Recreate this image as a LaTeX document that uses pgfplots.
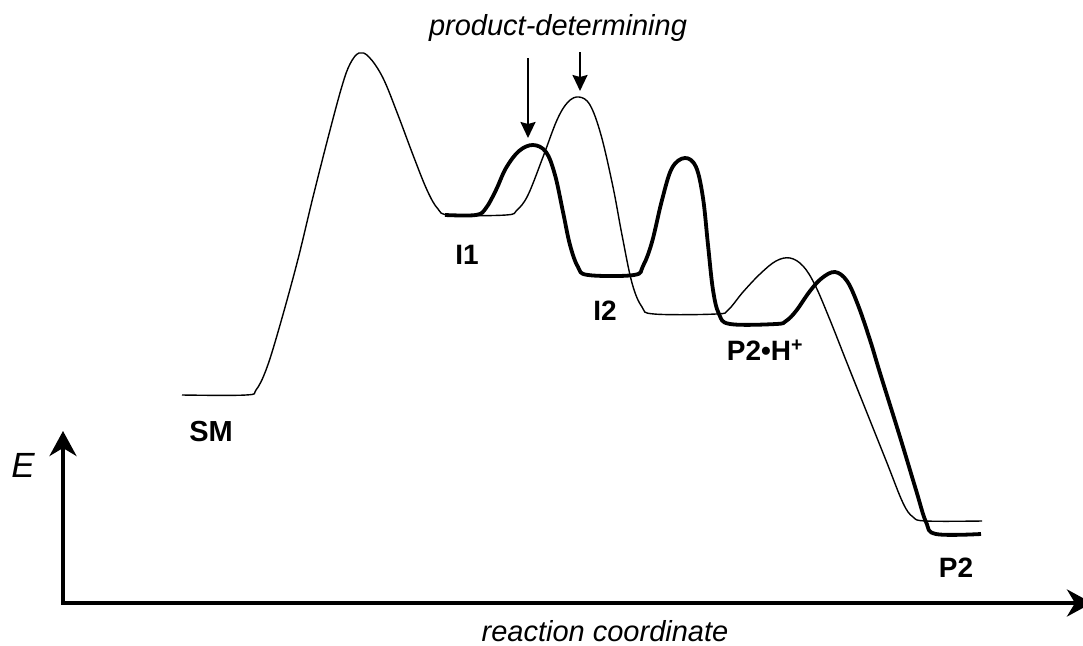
\documentclass[border=0pt]{standalone}
\usepackage{fontspec}
\setmainfont{Liberation Sans}
\usepackage{pgfplots}
\pgfplotsset{compat=1.18}
\usetikzlibrary{arrows.meta}
\begin{document}
\begin{tikzpicture}
\useasboundingbox (0,0) rectangle (1083pt,645pt);
\begin{axis}[
  at={(0,0)}, anchor=south west,
  scale only axis, width=1083pt, height=645pt,
  xmin=0, xmax=1083, ymin=0, ymax=645, y dir=reverse,
  hide axis, clip=false,
]
% thin profile
\addplot[black, line width=1.4pt, smooth, tension=0.6] coordinates {
(182,395) (246,395) (256,390) (266,370) (278,332) (297,263) (313,197) (329,134)
(342,86) (350,64) (359,53) (369,57) (383,78) (398,115) (413,155) (427,190)
(438,209) (450,215) (506,215) (517,210) (528,195) (543,157) (557,120) (568,102)
(579,97) (590,105) (601,135) (613,187) (622,235) (632,283) (642,307) (654,314)
(716,314) (728,310) (743,292) (760,274) (776,261) (790,258) (803,266) (815,285)
(830,320) (847,363) (867,413) (887,463) (903,503) (913,517) (926,521) (982,521)
};
% thick profile
\addplot[black, line width=3.8pt, smooth, tension=0.6] coordinates {
(445,215) (476,215) (486,208) (496,190) (506,168) (519,151) (533,145) (546,152)
(555,175) (563,212) (570,245) (578,267) (588,275) (634,275) (643,266) (652,242)
(662,200) (672,168) (685,158) (696,167) (703,198) (708,245) (713,290) (719,314)
(730,324) (776,324) (786,321) (796,311) (810,291) (822,278) (835,272) (847,281)
(858,305) (870,340) (880,373) (900,437) (916,490) (926,522) (936,534) (981,534)
};
% axes
\draw[line width=4pt, -{Stealth[length=25pt,width=27pt,inset=8pt]}] (axis cs:63,603) -- (axis cs:63,431);
\draw[line width=4pt, -{Stealth[length=25pt,width=27pt,inset=8pt]}] (axis cs:61,603) -- (axis cs:1092,603);
% arrows
\draw[line width=2pt, -{Stealth[length=16pt,width=15pt,inset=2pt]}] (axis cs:528,58) -- (axis cs:528,138);
\draw[line width=2pt, -{Stealth[length=16pt,width=15pt,inset=2pt]}] (axis cs:580,52) -- (axis cs:580,91);
% labels
\node[font=\itshape\fontsize{29}{32}\selectfont, inner sep=0pt, anchor=base] at (axis cs:558,35) {product-determining};
\node[font=\itshape\fontsize{29}{32}\selectfont, inner sep=0pt, anchor=base] at (axis cs:605,641) {reaction coordinate};
\node[font=\itshape\fontsize{35}{38}\selectfont] at (axis cs:23,465) {E};
\node[font=\bfseries\fontsize{29}{30}\selectfont] at (axis cs:211,432) {SM};
\node[font=\bfseries\fontsize{28}{30}\selectfont] at (axis cs:467,255) {I1};
\node[font=\bfseries\fontsize{28}{30}\selectfont] at (axis cs:605,311) {I2};
\node[font=\bfseries\fontsize{28}{30}\selectfont] at (axis cs:765,350) {P2\textbullet H\textsuperscript{+}};
\node[font=\bfseries\fontsize{28}{30}\selectfont] at (axis cs:956,568) {P2};
\end{axis}
\end{tikzpicture}
\end{document}
